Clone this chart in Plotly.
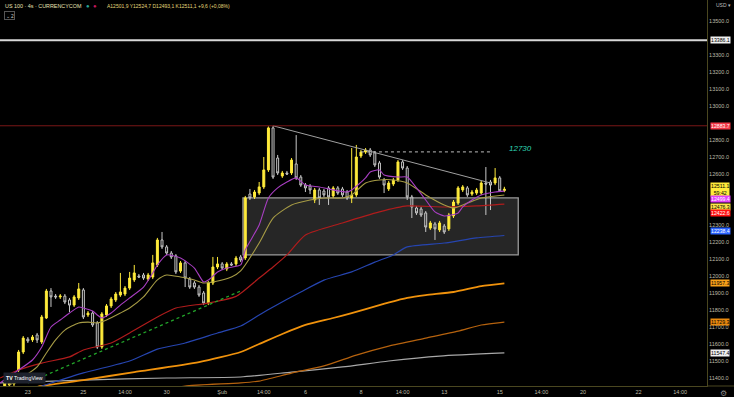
import plotly.graph_objects as go

# ---------------- data (4h bars, index = bar number) ----------------
opens = [11347,11359,11365,11447,11553,11629,11624,11653,11612,11753,
         11912,11882,11877,11882,11859,11829,11871,11918,11771,11782,
         11724,11582,11771,11824,11859,11888,11894,11929,11977,12000,
         12006,11982,11994,12065,12212,12171,12135,12118,12029,12077,
         11982,11959,11935,11900,11841,11959,12053,12071,12041,12071,
         12071,12112,12106,12482,12465,12488,12524,12624,12871,12694,
         12588,12606,12606,12659,12582,12535,12529,12447,12506,12500,
         12518,12471,12518,12512,12494,12459,12477,12706,12729,12741,
         12724,12665,12565,12512,12541,12565,12671,12635,12465,12400,
         12394,12371,12282,12306,12271,12294,12277,12353,12429,12506,
         12518,12482,12488,12488,12547,12553,12547,12577,12501.9]
highs = [11382,11388,11400,11565,11647,11641,11653,11665,11771,11924,
         11929,11894,11894,11894,11871,11888,11959,11929,11794,11794,
         11735,11788,11835,11877,11906,12018,11941,12024,12065,12012,
         12018,12018,12124,12224,12259,12182,12147,12129,12088,12088,
         11994,11971,11947,11912,11971,12112,12112,12082,12082,12082,
         12118,12124,12471,12512,12506,12553,12700,12880,12883.7,12712,
         12618,12618,12694,12829,12594,12547,12541,12518,12518,12512,
         12529,12529,12529,12524,12506,12753,12771,12741,12753,12753,
         12735,12677,12577,12559,12577,12682,12682,12647,12477,12412,
         12406,12382,12324,12318,12324,12306,12371,12447,12529,12535,
         12529,12506,12518,12559,12641,12565,12635,12588,12524.7]
lows = [11335,11347,11353,11435,11541,11606,11612,11606,11600,11747,
        11818,11865,11865,11835,11788,11818,11859,11747,11759,11700,
        11571,11571,11759,11812,11847,11877,11882,11918,11965,11988,
        11977,11971,11982,12053,12159,12124,12100,12012,12018,11935,
        11924,11924,11877,11829,11829,11947,12041,12035,12029,12059,
        12059,12082,12094,12447,12453,12476,12512,12612,12571,12594,
        12577,12594,12594,12565,12524,12494,12482,12429,12418,12465,
        12418,12459,12477,12465,12447,12429,12465,12694,12718,12700,
        12641,12571,12488,12500,12529,12553,12624,12447,12341,12359,
        12347,12259,12271,12212,12259,12247,12265,12341,12418,12494,
        12465,12471,12477,12477,12359,12388,12535,12494,12493.1]
closes = [11371,11377,11388,11553,11635,11618,11641,11624,11759,11912,
          11877,11877,11882,11847,11829,11877,11924,11759,11782,11712,
          11582,11777,11824,11865,11894,11906,11929,11988,12018,11994,
          11988,12006,12077,12212,12171,12135,12112,12024,12077,11988,
          11935,11935,11888,11841,11959,12053,12071,12047,12071,12065,
          12106,12094,12459,12459,12494,12524,12624,12871,12582,12606,
          12606,12600,12682,12577,12535,12518,12506,12506,12459,12477,
          12465,12518,12488,12477,12459,12477,12700,12729,12741,12712,
          12653,12582,12535,12547,12565,12671,12635,12465,12406,12371,
          12359,12288,12312,12277,12312,12259,12359,12435,12518,12524,
          12477,12494,12506,12547,12541,12535,12577,12501.5,12511.1]
bars = list(range(len(closes)))

# moving averages (bar, value)
ema_fast_bars = [-1,3,6,8,10,12,14,16,17,19,20,21,23,25,27,30,32,33,35,38,41,43,44,46,48,
                 51,52,55,57,59,61,63,65,68,70,74,75,78,79,81,82,85,87,89,91,93,95,98,99,
                 101,103,106,108]
ema_fast_vals = [11371,11447,11506,11582,11700,11741,11782,11818,11812,11794,11771,11753,11782,
                 11829,11871,11935,12018,12065,12124,12106,12047,11965,11976,12024,12047,12065,
                 12153,12300,12459,12518,12553,12577,12535,12524,12512,12494,12506,12577,12612,
                 12624,12594,12582,12582,12518,12447,12377,12353,12371,12406,12447,12476,12494,
                 12499.4]
ema_20_bars = [1,4,7,9,11,13,16,18,20,22,25,27,30,33,35,38,41,43,45,49,51,55,58,62,66,69,73,
               75,78,81,84,87,91,95,97,100,103,108]
ema_20_vals = [11359,11406,11465,11547,11624,11682,11724,11729,11724,11741,11782,11812,11877,
               11977,12006,11994,11977,11959,11965,11994,12030,12194,12341,12418,12447,12459,
               12459,12477,12547,12565,12565,12547,12477,12418,12400,12429,12459,12476.3]
ema_50_bars = [-1,3,8,14,17,23,27,33,37,44,50,55,58,61,65,73,81,87,95,102,108]
ema_50_vals = [11400,11447,11488,11524,11565,11606,11665,11759,11812,11841,11880,11988,12053,
               12124,12241,12312,12377,12412,12406,12412,12422.6]
ema_100_bars = [5,8,17,27,33,39,46,51,55,58,64,69,75,80,84,87,95,102,108]
ema_100_vals = [11330,11353,11430,11500,11570,11606,11665,11706,11771,11818,11906,11976,12024,
                12082,12124,12171,12194,12224,12238.4]
ema_200_bars = [5,8,17,28,42,51,55,60,65,71,75,81,87,91,97,103,108]
ema_200_vals = [11335,11353,11388,11435,11494,11553,11600,11659,11712,11753,11782,11829,11871,
                11888,11906,11941,11957.3]
sma_a_bars = [36,39,51,55,62,69,76,83,91,98,103,108]
sma_a_vals = [11335,11353,11371,11382,11429,11471,11535,11588,11635,11676,11712,11729.3]
sma_b_bars = [-1,17,35,51,62,73,83,94,108]
sma_b_vals = [11371,11388,11400,11406,11435,11465,11500,11529,11547.4]

# drawings
trend_bars = [5, 51]
trend_vals = [11371, 11912]
tri_bars = [58, 105]
tri_vals = [12883.7, 12547]
target_bars = [77, 105]
target_level = 12730
box_bars = [51.5, 111]
box_vals = [12124, 12459]
level_high = 13386.1
level_peak = 12883.7

tick_bars = [5, 17, 26, 35, 47, 56, 65, 77, 86, 95, 107, 116, 125, 137, 146]
tick_labels = ["23", "25", "14:00", "30", "Şub", "14:00", "6", "8", "14:00", "13",
               "15", "14:00", "20", "22", "14:00"]
# price ticks shown on the scale (those hidden under the value tags are left out)
price_ticks = [11400, 11500, 11600, 11700, 11800, 11900, 12000, 12100, 12200, 12300,
               12600, 12700, 12800, 13000, 13100, 13200, 13300, 13500]

# ---------------- figure ----------------
FONT = "Liberation Sans"
AX = "#bdbaa6"
SEP = "#4a4720"

fig = go.Figure()

def line(xs, ys, color, width=1, dash="solid"):
    fig.add_trace(go.Scatter(x=xs, y=ys, mode="lines", hoverinfo="skip",
                             line=dict(color=color, width=width, dash=dash, shape="spline",
                                       smoothing=0.6)))

line(sma_b_bars, sma_b_vals, "#a8a8a8", 1.2)
line(sma_a_bars, sma_a_vals, "#b5620e", 1.2)
line(ema_200_bars, ema_200_vals, "#f0920c", 1.8)
line(ema_100_bars, ema_100_vals, "#2645b0", 1.2)
line(ema_50_bars, ema_50_vals, "#b01c1c", 1.2)
line(ema_20_bars, ema_20_vals, "#a69b45", 1.1)
line(ema_fast_bars, ema_fast_vals, "#a83ec2", 1.1)

fig.add_trace(go.Scatter(x=trend_bars, y=trend_vals, mode="lines", hoverinfo="skip",
                         line=dict(color="#22a52a", width=1.3, dash="dot")))

fig.add_trace(go.Candlestick(
    x=bars, open=opens, high=highs, low=lows, close=closes,
    increasing=dict(line=dict(color="#ffeb3b", width=1), fillcolor="#ffeb3b"),
    decreasing=dict(line=dict(color="#c8c8c8", width=1), fillcolor="rgba(0,0,0,0)"),
    hoverinfo="skip"))

fig.add_trace(go.Scatter(x=tri_bars, y=tri_vals, mode="lines", hoverinfo="skip",
                         line=dict(color="#a0a0a0", width=1)))
fig.add_trace(go.Scatter(x=target_bars, y=[target_level, target_level], mode="lines",
                         hoverinfo="skip", line=dict(color="#bdbdbd", width=1, dash="dot")))

shapes = [
    dict(type="rect", xref="x", yref="y", x0=box_bars[0], x1=box_bars[1],
         y0=box_vals[0], y1=box_vals[1], layer="below",
         fillcolor="#262626", line=dict(color="#9a9a9a", width=1.3)),
    dict(type="line", xref="paper", yref="y", x0=0, x1=1, y0=level_high, y1=level_high,
         line=dict(color="#d8d8d8", width=2)),
    dict(type="line", xref="paper", yref="y", x0=0, x1=1, y0=level_peak, y1=level_peak,
         line=dict(color="#7a1717", width=1)),
    dict(type="line", xref="paper", yref="paper", x0=1, x1=1.04, y0=0, y1=0,
         line=dict(color=SEP, width=1)),
]

def plabel(val, bg, fg, text=None, yshift=0):
    return dict(xref="paper", yref="y", x=1, y=val, xanchor="left", yanchor="middle",
                xshift=3, yshift=yshift, text=text or f"{val:.1f}", showarrow=False,
                bgcolor=bg, borderpad=0, font=dict(family=FONT, size=5.2, color=fg),
                align="center")

annotations = [
    plabel(level_high, "#f0f0f0", "#000000"),
    plabel(level_peak, "#f23645", "#ffffff"),
    plabel(closes[-1], "#ffeb3b", "#000000", text=f"{closes[-1]:.1f}<br>59:42"),
    plabel(ema_fast_vals[-1], "#e040fb", "#ffffff", yshift=-8.2),
    plabel(ema_20_vals[-1], "#fde64b", "#000000", yshift=-11.5),
    plabel(ema_50_vals[-1], "#ff1010", "#ffffff", yshift=-9.3),
    plabel(ema_100_vals[-1], "#2962ff", "#ffffff", yshift=4),
    plabel(ema_200_vals[-1], "#f7a11a", "#000000"),
    plabel(sma_a_vals[-1], "#e8890f", "#000000"),
    plabel(sma_b_vals[-1], "#f0f0f0", "#000000"),
    dict(xref="x", yref="y", x=108.5, y=target_level, xanchor="left", yanchor="middle",
         yshift=3, text=f"<i>{target_level}</i>", showarrow=False,
         font=dict(family=FONT, size=8, color="#2fd6b5")),
    dict(xref="paper", yref="paper", x=0.004, y=1 - 6 / 386, xanchor="left", yanchor="middle",
         text="US 100 · 4s · CURRENCYCOM", showarrow=False,
         font=dict(family=FONT, size=5.4, color="#e8e2b4")),
    dict(xref="paper", yref="paper", x=84 / 707, y=1 - 5.5 / 386, xanchor="left",
         yanchor="middle", text="●", showarrow=False,
         font=dict(family=FONT, size=6, color="#26a69a")),
    dict(xref="paper", yref="paper", x=91 / 707, y=1 - 5.5 / 386, xanchor="left",
         yanchor="middle", text="●", showarrow=False,
         font=dict(family=FONT, size=6, color="#c2185b")),
    dict(xref="paper", yref="paper", x=105 / 707, y=1 - 6 / 386, xanchor="left",
         yanchor="middle",
         text="A12501,9 Y12524,7 D12493,1 K12511,1 +9,6 (+0,08%)", showarrow=False,
         font=dict(family=FONT, size=5.0, color="#e3d77a")),
    dict(xref="paper", yref="paper", x=4 / 707, y=1 - 15.5 / 386, xanchor="left",
         yanchor="middle", text="⌄ 2", showarrow=False, bordercolor="#555555",
         borderwidth=1, borderpad=0.5, font=dict(family=FONT, size=5, color="#cfcfcf")),
    dict(xref="paper", yref="paper", x=1, y=1 - 5 / 386, xanchor="left", xshift=7,
         yanchor="middle", text="USD ▾", showarrow=False,
         font=dict(family=FONT, size=5, color="#bdbdbd")),
    dict(xref="paper", yref="paper", x=3 / 707, y=(386 - 378) / 386, xanchor="left",
         yanchor="middle", text="<b>TV</b> TradingView", showarrow=False,
         bgcolor="#1e222d", borderpad=2, font=dict(family=FONT, size=5.2, color="#ffffff")),
    dict(xref="paper", yref="paper", x=1, y=0, xanchor="left", xshift=11, yanchor="top",
         yshift=-1, text="⚙", showarrow=False,
         font=dict(family="DejaVu Sans", size=8, color="#8a8a8a")),
]

fig.update_layout(
    width=734, height=397,
    margin=dict(l=0, r=27, t=0, b=11),
    paper_bgcolor="#000000", plot_bgcolor="#000000",
    showlegend=False, boxgap=0.35, boxgroupgap=0.35,
    font=dict(family=FONT, color=AX),
    shapes=shapes, annotations=annotations,
    xaxis=dict(range=[-1.02, 151.8], showgrid=False, zeroline=False,
               tickmode="array", tickvals=tick_bars, ticktext=tick_labels,
               tickfont=dict(size=5.5, color=AX), ticks="", ticklen=0,
               showline=True, linecolor=SEP, linewidth=1,
               rangeslider=dict(visible=False), fixedrange=True),
    yaxis=dict(range=[11353, 13623.5], side="right", showgrid=False, zeroline=False,
               tickmode="array", tickvals=price_ticks,
               ticktext=[f"{p:.1f}" for p in price_ticks],
               tickfont=dict(size=5.5, color=AX), ticks="",
               showline=True, linecolor=SEP, linewidth=1, fixedrange=True),
)

fig.write_html("out.html", config={"displayModeBar": False},
               post_script="document.body.style.margin='0';"
                           "document.body.style.overflow='hidden';")
